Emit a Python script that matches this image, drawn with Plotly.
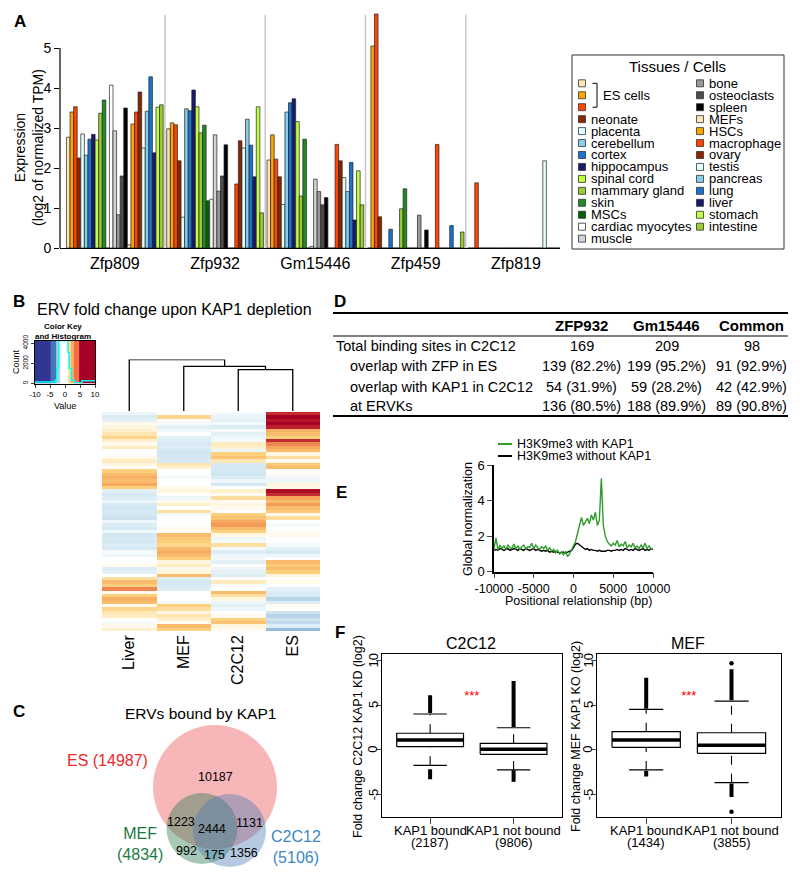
import plotly.graph_objects as go

W, H = 800, 881
FONT = "Liberation Sans, Arial, Helvetica, sans-serif"


def fx(px):
    return px / W


def fy(py):
    return 1 - py / H


# ---------------- Panel A data ----------------
genes = ["Zfp809", "Zfp932", "Gm15446", "Zfp459", "Zfp819"]
tissues = ["ES cells 1", "ES cells 2", "ES cells 3", "neonate", "placenta", "cerebellum",
           "cortex", "hippocampus", "spinal cord", "mammary gland", "skin", "MSCs",
           "cardiac myocytes", "muscle", "bone", "osteoclasts", "spleen", "MEFs", "HSCs",
           "macrophage", "ovary", "testis", "pancreas", "lung", "liver", "stomach", "intestine"]
legend_labels = ["ES cells", "ES cells", "ES cells", "neonate", "placenta", "cerebellum",
                 "cortex", "hippocampus", "spinal cord", "mammary gland", "skin", "MSCs",
                 "cardiac myocytes", "muscle", "bone", "osteoclasts", "spleen", "MEFs", "HSCs",
                 "macrophage", "ovary", "testis", "pancreas", "lung", "liver", "stomach", "intestine"]
tissue_colors = ["#FFE4B5", "#FFA500", "#FF4500", "#8B2500", "#E0FFFF", "#87CEEB",
                 "#1874CD", "#191970", "#C0FF3E", "#9ACD32", "#228B22", "#006400",
                 "#FFFFFF", "#D3D3D3", "#999999", "#4D4D4D", "#000000", "#FFE4B5", "#FFA500",
                 "#FF4500", "#8B2500", "#E0FFFF", "#87CEEB", "#1874CD", "#191970", "#C0FF3E", "#9ACD32"]
expr_zfp809 = [2.77, 3.4, 3.53, 2.25, 2.85, 2.32, 2.72, 2.84, 2.7, 3.37, 3.7, 0, 4.07, 2.93,
               0.83, 1.8, 3.5, 0.08, 3.1, 3.4, 3.9, 2.5, 3.42, 4.28, 2.38, 3.52, 3.58]
expr_zfp932 = [2.98, 3.13, 3.08, 2.18, 0.77, 3.48, 3.43, 3.95, 3.53, 2.88, 3.07, 1.18, 1.22, 2.83,
               1.42, 1.8, 2.58, 0, 0, 1.6, 2.68, 2.5, 3.22, 2.57, 1.78, 3.53, 0.88]
expr_gm15446 = [2.2, 2.83, 2.22, 1.78, 1.09, 3.4, 3.63, 3.73, 3.16, 1.3, 2.72, 0, 0.04, 1.72,
                1.41, 1.08, 1.26, 0, 0, 2.59, 2.18, 1.76, 1.41, 2.14, 0.7, 1.93, 1.08]
expr_zfp459 = [0, 5.05, 5.85, 0.78, 0, 0, 0.47, 0, 0, 0.98, 1.48, 0, 0, 0,
               0.82, 0, 0.45, 0, 0, 2.59, 0, 0, 0, 0.56, 0, 0, 0.4]
expr_zfp819 = [0, 0, 1.63, 0, 0, 0, 0, 0, 0, 0, 0, 0, 0, 0,
               0, 0, 0, 0, 0, 0, 0, 2.18, 0, 0, 0, 0, 0]
expr_by_gene = [expr_zfp809, expr_zfp932, expr_gm15446, expr_zfp459, expr_zfp819]
for e in expr_by_gene:
    assert len(e) == len(tissues)
GROUP = 28  # 27 bars + 1 gap per gene

# ---------------- Panel B data ----------------
heat_columns = ["Liver", "MEF", "C2C12", "ES"]
heat_liver = [-0.6, -1.0, -0.8, 0.3, 0.5, 0.8, 1.2, 1.8, 0.8, 0.3, 1.0, 0, 0, 0.3, 1.0, 0.5, 0,
              2.0, 2.5, 2.8, 2.5, 3.0, 2.0, -0.8, -1.2, -1.0, -0.5, -1.2, -1.4, -1.2, -1.3, -1.5,
              -0.5, -1.0, -1.2, -0.5, -1.3, -1.2, -1.3, -1.0, -1.2, -0.3, -0.5, 0, 0, 0.3, -1.0,
              -0.8, 0, 1.5, 2.5, 2.0, 3.5, 0.3, 2.0, 2.8, 2.5, 0.3, 1.8, 1.2, 1.0, 0, -0.3, 0.3, 0.8]
heat_mef = [0, 1.8, 0.2, -0.3, -0.8, -0.5, 0, -0.8, -1.0, -1.2, -1.0, -1.3, -1.4, -1.3, -1.2, 1.2,
            0.8, 0, 0, -0.3, 0, 0, 0.3, 0.5, 0, -0.5, 0.3, 0.8, 0, 1.5, -0.3, 0, 0, 0, 0.3, 0,
            2.5, 2.2, 2.0, 1.8, 2.5, 2.8, 2.5, 2.0, 0.5, 1.0, 0.3, 0.5, 2.5, -1.0, -1.3, -1.2,
            -1.0, 0, 0, 0, -0.3, 2.0, 1.5, 0.5, 1.2, 0.8, 0.3, 2.5, 2.0]
heat_c2c12 = [-0.3, -0.6, -0.8, -0.4, -1.0, -0.3, -0.8, -0.5, -0.3, 1.0, 0.8, -0.5, 2.0, 2.3, 1.2,
              -1.2, -1.3, -1.3, -1.4, -1.0, -0.5, -1.3, 0, 0.8, 0.3, 1.5, 0.2, 0.5, 0.3, 0, 2.0,
              2.3, 3.0, 3.2, 2.5, 2.0, 0.5, -0.5, -0.3, 1.5, -0.3, -1.0, -0.5, -0.3, -0.8, 0,
              -0.5, -0.8, -1.0, 0, 1.0, -0.3, 0, 2.5, 1.5, 0.5, -0.5, -0.8, -0.5, 0, 0.3, 2.0,
              2.3, 0.5, 0.3]
heat_es = [5, 7, 6, 7, 5.5, 2.8, 2.5, 2.0, 5, 3.5, 3.0, 2.5, 0.5, 1.5, 0.3, 2.2, 2.5, 0, 0.2,
           -0.4, -0.5, 0.5, 0.3, 6.5, 5, 3, 2.5, 3.2, 2.5, 2.2, 0.3, 1.5, 0, -0.3, 0, 0.2, 0.3,
           0, 0, -0.3, -0.8, -1.2, -0.5, 0, 2.5, 2.2, 2.5, 2.0, 0.5, 0, 0.3, 0, -0.8, -1.0,
           -1.2, -2.0, -1.0, 0.2, 0, -1.5, -2.0, -1.5, -1.8, -1.0, -2.8]
for col in (heat_liver, heat_mef, heat_c2c12, heat_es):
    assert len(col) == 65
# dendrogram merge heights: (C2C12,ES), (MEF,.), (Liver,.)
dendro_heights = [8.05, 8.7, 10.0]
# color key breaks / colours and value histogram
key_breaks = [-10, -4.7, -2.8, -1.5, 1.0, 1.9, 2.9, 4.7, 10]
key_colors = ["#313695", "#4575B4", "#ABD9E9", "#FFFFFF", "#FEE090", "#FDAE61", "#F46D43", "#A50026"]
hist_edges = [-10, -3.3, -2.7, -2.2, -1.5, 1.0, 1.4, 2.1, 3.2, 5.6, 10]
hist_counts = [150, 330, 1500, 4250, 4250, 3100, 1500, 330, 80, 270]

# ---------------- Panel C data ----------------
venn_sets = ["ES (14987)", "MEF<br>(4834)", "C2C12<br>(5106)"]
venn_regions = ["10187", "1223", "2444", "1131", "992", "175", "1356"]

# ---------------- Panel D data ----------------
table_header = ["ZFP932", "Gm15446", "Common"]
table_rows = ["Total binding sites in C2C12", "overlap with ZFP in ES",
              "overlap with KAP1 in C2C12", "at ERVKs"]
table_values = [["169", "209", "98"],
                ["139 (82.2%)", "199 (95.2%)", "91 (92.9%)"],
                ["54 (31.9%)", "59 (28.2%)", "42 (42.9%)"],
                ["136 (80.5%)", "188 (89.9%)", "89 (90.8%)"]]

# ---------------- Panel E data ----------------
pos_bp = list(range(-10000, 10001, 250))
pos_ticks = [-10000, -5000, 0, 5000, 10000]
h3k9_with_kap1 = [1.3, 1.9, 1.2, 1.5, 1.3, 1.45, 1.25, 1.5, 1.35, 1.3, 1.55, 1.3, 1.45, 1.25, 1.4,
                  1.5, 1.3, 1.4, 1.35, 1.6, 1.3, 1.5, 1.35, 1.25, 1.4, 1.3, 1.45, 1.2, 1.35, 1.15,
                  1.25, 1.05, 1.2, 1.0, 1.1, 0.95, 1.15, 0.85, 1.0, 1.2,
                  1.45, 1.7, 2.2, 2.7, 3.05, 2.6, 2.85, 3.0, 2.7, 3.2, 2.9, 3.35, 2.6, 2.9, 5.25,
                  2.6, 2.0, 1.7, 1.55, 1.45, 1.6,
                  1.5, 1.75, 1.4, 1.55, 1.45, 1.7, 1.35, 1.5, 1.4, 1.6, 1.35, 1.45, 1.3, 1.5,
                  1.35, 1.6, 1.3, 1.45, 1.3, 1.3]
h3k9_without_kap1 = [1.2, 1.25, 1.2, 1.3, 1.25, 1.2, 1.25, 1.3, 1.2, 1.25, 1.3, 1.25, 1.2, 1.3,
                     1.25, 1.2, 1.3, 1.25, 1.2, 1.25, 1.3, 1.2, 1.25, 1.2, 1.15, 1.2, 1.15, 1.2,
                     1.1, 1.15, 1.1, 1.15, 1.1, 1.05, 1.1, 1.1, 1.05, 1.1, 1.15, 1.2,
                     1.35, 1.55, 1.6, 1.5, 1.4, 1.3, 1.25, 1.3, 1.2, 1.25, 1.2, 1.2, 1.15, 1.2,
                     1.15, 1.15, 1.15, 1.2, 1.2, 1.15, 1.2,
                     1.2, 1.25, 1.2, 1.25, 1.2, 1.3, 1.25, 1.2, 1.25, 1.2, 1.3, 1.25, 1.2, 1.25,
                     1.3, 1.2, 1.25, 1.2, 1.3, 1.25]
assert len(h3k9_with_kap1) == len(pos_bp) == len(h3k9_without_kap1)

# ---------------- Panel F data ----------------
box_groups = ["KAP1 bound", "KAP1 not bound"]
fold_ticks = [-5, 0, 5, 10]
c2c12_counts = [2187, 9806]
c2c12_stats = {"q1": [0.34, -0.52], "med": [1.09, 0.05], "q3": [1.84, 0.71],
               "lo": [-1.75, -2.27], "hi": [4.0, 2.46]}
c2c12_out_hi = [(4.1, 6.1), (2.55, 7.7)]
c2c12_out_lo = [(-2.2, -3.3), (-2.3, -3.6)]
c2c12_isolated = [[], []]
mef_counts = [1434, 3855]
mef_stats = {"q1": [0.26, -0.41], "med": [1.09, 0.49], "q3": [2.02, 1.9],
             "lo": [-2.27, -3.7], "hi": [4.52, 5.45]}
mef_out_hi = [(4.6, 8.06), (5.55, 9.0)]
mef_out_lo = [(-2.35, -3.0), (-3.8, -5.3)]
mef_isolated = [[], [9.67, -6.94]]
signif = "***"

fig = go.Figure()
shapes = []
anns = []


def ann(text, x, y, size=13, color="black", xanchor="center", yanchor="middle", angle=0, bold=False):
    if bold:
        text = "<b>" + text + "</b>"
    return dict(text=text, x=fx(x), y=fy(y), xref="paper", yref="paper", showarrow=False,
                font=dict(family=FONT, size=size, color=color), xanchor=xanchor,
                yanchor=yanchor, textangle=angle)


def pline(x0, y0, x1, y1, color="black", width=1):
    return dict(type="line", xref="paper", yref="paper", x0=fx(x0), y0=fy(y0), x1=fx(x1),
                y1=fy(y1), line=dict(color=color, width=width))


# ================= Panel A =================
for ti, t in enumerate(tissues):
    fig.add_trace(go.Bar(
        x=[g * GROUP + ti for g in range(len(genes))],
        y=[expr_by_gene[g][ti] for g in range(len(genes))],
        width=1, marker=dict(color=tissue_colors[ti], line=dict(color="#222222", width=0.7)),
        xaxis="x", yaxis="y", showlegend=False, name=t))
for g in range(len(genes) - 1):
    shapes.append(dict(type="line", xref="x", yref="y", x0=g * GROUP + 27, x1=g * GROUP + 27,
                       y0=0, y1=5.83, line=dict(color="#C8C8C8", width=1.5), layer="below"))
shapes.append(dict(type="line", xref="paper", yref="y", x0=fx(60), x1=fx(60), y0=0, y1=5,
                   line=dict(color="black", width=1.2)))
anns.append(ann("A", 20, 21, size=17, bold=True))
anns.append(ann("Expression<br>(log2 of normalized TPM)", 29, 148, size=14, angle=-90))

# legend box
shapes.append(dict(type="rect", xref="paper", yref="paper", x0=fx(572), x1=fx(784), y0=fy(249),
                   y1=fy(55), line=dict(color="#333333", width=1), fillcolor="white"))
anns.append(ann("Tissues / Cells", 677, 66, size=15))
ROW0, ROWSTEP = 83.3, 11.95
for i, lab in enumerate(legend_labels):
    if i < 14:
        sx, row = 582, i
    else:
        sx, row = 700, i - 14
    cy = ROW0 + row * ROWSTEP
    shapes.append(dict(type="rect", xref="paper", yref="paper", x0=fx(sx - 3.5), x1=fx(sx + 3.5),
                       y0=fy(cy + 3.5), y1=fy(cy - 3.5), fillcolor=tissue_colors[i],
                       line=dict(color="#333333", width=0.8)))
    if i >= 3:
        anns.append(ann(lab, sx + 7, cy, size=13, xanchor="left"))
# ES bracket
shapes.append(pline(597, ROW0, 597, ROW0 + 2 * ROWSTEP, width=1))
shapes.append(pline(592.5, ROW0, 597, ROW0, width=1))
shapes.append(pline(592.5, ROW0 + 2 * ROWSTEP, 597, ROW0 + 2 * ROWSTEP, width=1))
anns.append(ann(legend_labels[0], 601, ROW0 + ROWSTEP, size=13, xanchor="left"))

# ================= Panel B =================
anns.append(ann("B", 19, 301, size=17, bold=True))
anns.append(ann("ERV fold change upon KAP1 depletion", 174, 309, size=16))
# color key bands
for i in range(len(key_colors)):
    shapes.append(dict(type="rect", xref="x2", yref="y2", x0=key_breaks[i], x1=key_breaks[i + 1],
                       y0=0, y1=4262, fillcolor=key_colors[i], line=dict(width=0), layer="below"))
fig.add_trace(go.Scatter(x=hist_edges, y=hist_counts + [hist_counts[-1]], mode="lines",
                         line=dict(color="#00FFFF", width=1.5, shape="hv"),
                         xaxis="x2", yaxis="y2", showlegend=False, cliponaxis=True))
anns.append(ann("Color Key", 63, 326.5, size=8, bold=True))
anns.append(ann("and Histogram", 63, 336.5, size=8, bold=True))
anns.append(ann("Count", 16, 362, size=9, angle=-90))
anns.append(ann("Value", 65, 406, size=9))

# dendrogram
col_x = list(range(len(heat_columns)))
n1 = (col_x[2] + col_x[3]) / 2
n2 = (col_x[1] + n1) / 2
dendro = [([col_x[2], col_x[2], col_x[3], col_x[3]], [0, dendro_heights[0], dendro_heights[0], 0]),
          ([col_x[1], col_x[1], n1, n1], [0, dendro_heights[1], dendro_heights[1], dendro_heights[0]]),
          ([col_x[0], col_x[0], n2, n2], [0, dendro_heights[2], dendro_heights[2], dendro_heights[1]])]
for dxs, dys in dendro:
    fig.add_trace(go.Scatter(x=dxs, y=dys, mode="lines", line=dict(color="black", width=1.3),
                             xaxis="x3", yaxis="y3", showlegend=False))

heat_z = [list(r) for r in zip(heat_liver, heat_mef, heat_c2c12, heat_es)]
heat_scale = [[0.0, "#313695"], [0.25, "#4575B4"], [0.35, "#8FB3D9"], [0.425, "#CDE4EF"],
              [0.475, "#EDF6FA"], [0.5, "#FFFFFF"], [0.525, "#FFF6E0"], [0.55, "#FEEBC0"],
              [0.6, "#FDD07E"], [0.65, "#F5A75C"], [0.7, "#E6644A"], [0.75, "#C42B2E"],
              [0.85, "#A50026"], [1.0, "#A50026"]]
fig.add_trace(go.Heatmap(z=heat_z, x=col_x, y=list(range(len(heat_z))), colorscale=heat_scale,
                         zmin=-10, zmax=10, showscale=False, xaxis="x4", yaxis="y4"))

# ================= Panel C (Venn) =================
anns.append(ann("C", 19, 711, size=17, bold=True))
anns.append(ann("ERVs bound by KAP1", 201, 713, size=15.5))
circles = [(215, 787, 62, "rgba(232,56,61,0.36)"),
           (202, 828.5, 35.5, "rgba(46,125,80,0.42)"),
           (229.5, 830.5, 36.5, "rgba(70,120,180,0.40)")]
for cx, cy, r, col in circles:
    shapes.append(dict(type="circle", xref="paper", yref="paper", x0=fx(cx - r), x1=fx(cx + r),
                       y0=fy(cy + r), y1=fy(cy - r), fillcolor=col, line=dict(width=0)))
anns.append(ann(venn_sets[0], 107, 760.5, size=16, color="#E8282B"))
anns.append(ann(venn_sets[1], 140, 844, size=16, color="#1B7A43"))
anns.append(ann(venn_sets[2], 296, 847, size=16, color="#3B87C6"))
venn_pos = [(215.7, 776.7), (181, 821.7), (212.3, 829.3), (249.3, 823.3), (186, 851), (214, 855),
            (244, 852.7)]
for txt, (vx, vy) in zip(venn_regions, venn_pos):
    anns.append(ann(txt, vx, vy, size=12.5))

# ================= Panel D (table) =================
anns.append(ann("D", 340, 302, size=17, bold=True))
shapes.append(pline(333, 313, 788, 313, width=2))
shapes.append(pline(333, 336, 788, 336, width=1))
shapes.append(pline(333, 416, 788, 416, width=2))
col_cx = [581.7, 666.7, 751.7]
for h, cx in zip(table_header, col_cx):
    anns.append(ann(h, cx, 325, size=15, bold=True))
row_y = [345.5, 366.5, 386.5, 406.5]
for ri, (lab, vals) in enumerate(zip(table_rows, table_values)):
    anns.append(ann(lab, 334 if ri == 0 else 348, row_y[ri], size=14.5, xanchor="left"))
    for v, cx in zip(vals, col_cx):
        anns.append(ann(v, cx, row_y[ri], size=14.5))

# ================= Panel E =================
anns.append(ann("E", 341, 492, size=17, bold=True))
fig.add_trace(go.Scatter(x=pos_bp, y=h3k9_without_kap1, mode="lines",
                         line=dict(color="black", width=1.4), xaxis="x5", yaxis="y5",
                         showlegend=False))
fig.add_trace(go.Scatter(x=pos_bp, y=h3k9_with_kap1, mode="lines",
                         line=dict(color="#2E9B2A", width=1.4), xaxis="x5", yaxis="y5",
                         showlegend=False))
shapes.append(pline(498, 444, 512, 444, color="#2E9B2A", width=2))
shapes.append(pline(498, 456, 512, 456, color="black", width=2))
anns.append(ann("H3K9me3 with KAP1", 515, 444, size=12.5, xanchor="left"))
anns.append(ann("H3K9me3 without KAP1", 515, 456, size=12.5, xanchor="left"))
anns.append(ann("Global normalization", 468, 519, size=12.5, angle=-90))
anns.append(ann("Positional relationship (bp)", 578, 601, size=12.5))

# ================= Panel F =================
anns.append(ann("F", 340, 632, size=17, bold=True))


def draw_boxes(stats, out_hi, out_lo, isolated, xa, ya):
    for i in range(len(box_groups)):
        c = i + 1
        q1, med, q3 = stats["q1"][i], stats["med"][i], stats["q3"][i]
        lo, hi = stats["lo"][i], stats["hi"][i]
        segs = [
            dict(x=[c, c], y=list(out_hi[i]), line=dict(color="black", width=4)),
            dict(x=[c, c], y=list(out_lo[i]), line=dict(color="black", width=4)),
            dict(x=[c, c], y=[q3, hi], line=dict(color="black", width=1.1, dash="dash")),
            dict(x=[c, c], y=[lo, q1], line=dict(color="black", width=1.1, dash="dash")),
            dict(x=[c - 0.2, c + 0.2], y=[hi, hi], line=dict(color="black", width=1.2)),
            dict(x=[c - 0.2, c + 0.2], y=[lo, lo], line=dict(color="black", width=1.2)),
        ]
        for s in segs:
            fig.add_trace(go.Scatter(mode="lines", xaxis=xa, yaxis=ya, showlegend=False, **s))
        fig.add_trace(go.Scatter(x=[c - 0.4, c + 0.4, c + 0.4, c - 0.4, c - 0.4],
                                 y=[q1, q1, q3, q3, q1], mode="lines", fill="toself",
                                 fillcolor="white", line=dict(color="black", width=1.2),
                                 xaxis=xa, yaxis=ya, showlegend=False))
        fig.add_trace(go.Scatter(x=[c - 0.4, c + 0.4], y=[med, med], mode="lines",
                                 line=dict(color="black", width=3.5), xaxis=xa, yaxis=ya,
                                 showlegend=False))
        if isolated[i]:
            fig.add_trace(go.Scatter(x=[c] * len(isolated[i]), y=isolated[i], mode="markers",
                                     marker=dict(color="black", size=4.5), xaxis=xa, yaxis=ya,
                                     showlegend=False))
    fig.add_trace(go.Scatter(x=[1.5], y=[5.9], mode="text", text=[signif],
                             textfont=dict(color="red", size=13, family=FONT),
                             xaxis=xa, yaxis=ya, showlegend=False))


draw_boxes(c2c12_stats, c2c12_out_hi, c2c12_out_lo, c2c12_isolated, "x6", "y6")
draw_boxes(mef_stats, mef_out_hi, mef_out_lo, mef_isolated, "x7", "y7")

anns.append(ann("C2C12", 471, 643, size=16))
anns.append(ann("MEF", 688, 643, size=16))
anns.append(ann("Fold change C2C12 KAP1 KD (log2)", 358, 737, size=12.5, angle=-90))
anns.append(ann("Fold change MEF KAP1 KO (log2)", 576, 737, size=12.5, angle=-90))
for counts, xa, ya, lab_x in ((c2c12_counts, "x6", "y6", 373), (mef_counts, "x7", "y7", 588)):
    for i, (grp, n) in enumerate(zip(box_groups, counts)):
        anns.append(dict(text=grp, x=i + 1, y=fy(830.5), xref=xa, yref="paper",
                         showarrow=False, xanchor="center", yanchor="middle",
                         font=dict(family=FONT, size=13)))
        anns.append(dict(text="(" + str(n) + ")", x=i + 1, y=fy(842.5), xref=xa, yref="paper",
                         showarrow=False, xanchor="center", yanchor="middle",
                         font=dict(family=FONT, size=13)))
    for tv in fold_ticks:
        anns.append(dict(text=str(tv), x=fx(lab_x), y=tv, xref="paper", yref=ya,
                         showarrow=False, xanchor="center", yanchor="middle", textangle=-90,
                         font=dict(family=FONT, size=13)))

# ================= Axes =================
common = dict(showgrid=False, zeroline=False)
tick_font = dict(family=FONT, size=14, color="black")
layout_axes = dict(
    xaxis=dict(domain=[fx(60), fx(560)], range=[-2.3, 137.3], showline=True, linecolor="black",
               linewidth=1.2, tickvals=[g * GROUP + 13 for g in range(len(genes))],
               ticktext=genes, ticks="outside", ticklen=1, tickcolor="rgba(0,0,0,0)",
               tickfont=dict(family=FONT, size=16, color="black"), anchor="y", **common),
    yaxis=dict(domain=[fy(248), fy(8)], range=[0, 6], tickvals=[0, 1, 2, 3, 4, 5], ticks="outside",
               ticklen=5, tickcolor="black", tickfont=tick_font, showline=False, anchor="x",
               **common),
    xaxis2=dict(domain=[fx(35), fx(95)], range=[-10, 10], tickvals=[-10, -5, 0, 5, 10],
                ticktext=["-10", "-5", "0", "5", "10"],
                ticks="outside", ticklen=3, tickfont=dict(family=FONT, size=8, color="black"),
                showline=True, mirror=True, linecolor="black", linewidth=1, anchor="y2", **common),
    yaxis2=dict(domain=[fy(383.5), fy(340.5)], range=[0, 4262], tickvals=[0, 2000, 4000],
                ticktext=["0", "2000", "4000"],
                ticks="outside", ticklen=3, tickangle=-90,
                tickfont=dict(family=FONT, size=6.5, color="black"), showline=True, mirror=True,
                linecolor="black", linewidth=1, anchor="x2", **common),
    xaxis3=dict(domain=[fx(102), fx(320)], range=[-0.5, 3.5], visible=False, anchor="y3", **common),
    yaxis3=dict(domain=[fy(411), fy(359.6)], range=[0, 10], visible=False, anchor="x3", **common),
    xaxis4=dict(domain=[fx(102), fx(320)], range=[-0.5, 3.5], tickvals=col_x,
                ticktext=heat_columns, tickangle=-90, ticks="", showline=False,
                tickfont=dict(family=FONT, size=16, color="black"), anchor="y4", **common),
    yaxis4=dict(domain=[fy(631), fy(412)], range=[len(heat_z) - 0.5, -0.5], visible=False,
                anchor="x4", **common),
    xaxis5=dict(domain=[fx(494), fx(653)], range=[-10000, 10000],
                tickvals=pos_ticks, ticktext=[str(v) for v in pos_ticks], ticks="outside",
                ticklen=5, showline=True, linecolor="black", linewidth=1.5,
                tickfont=dict(family=FONT, size=12.5, color="black"), anchor="y5", **common),
    yaxis5=dict(domain=[fy(571.7), fy(465)], range=[0, 6], tickvals=[0, 2, 4, 6],
                ticks="outside", ticklen=5, showline=True, linecolor="black", linewidth=1.5,
                tickfont=dict(family=FONT, size=13, color="black"), anchor="x5", **common),
)
for xa, ya, x0, x1 in (("xaxis6", "yaxis6", 381.7, 562), ("xaxis7", "yaxis7", 596.7, 781)):
    n = xa[-1]
    layout_axes[xa] = dict(domain=[fx(x0), fx(x1)], range=[0.42, 2.58], tickvals=[1, 2],
                           ticktext=["", ""], ticks="outside", ticklen=6, showline=True,
                           mirror=True, linecolor="black", linewidth=1.3, anchor="y" + n, **common)
    layout_axes[ya] = dict(domain=[fy(817), fy(654)], range=[-7.54, 10.72],
                           tickvals=fold_ticks, showticklabels=False,
                           ticks="outside", ticklen=5,
                           showline=True, mirror=True, linecolor="black", linewidth=1.3,
                           anchor="x" + n, **common)

fig.update_layout(width=W, height=H,
                  margin=dict(l=0, r=0, t=0, b=0, pad=0, autoexpand=False),
                  barmode="overlay",
                  plot_bgcolor="white", paper_bgcolor="white", showlegend=False,
                  font=dict(family=FONT, color="black"), shapes=shapes, annotations=anns,
                  **layout_axes)
fig.write_html("out.html", config={"displayModeBar": False},
               post_script="document.body.style.margin='0px';document.body.style.overflow='hidden';")
